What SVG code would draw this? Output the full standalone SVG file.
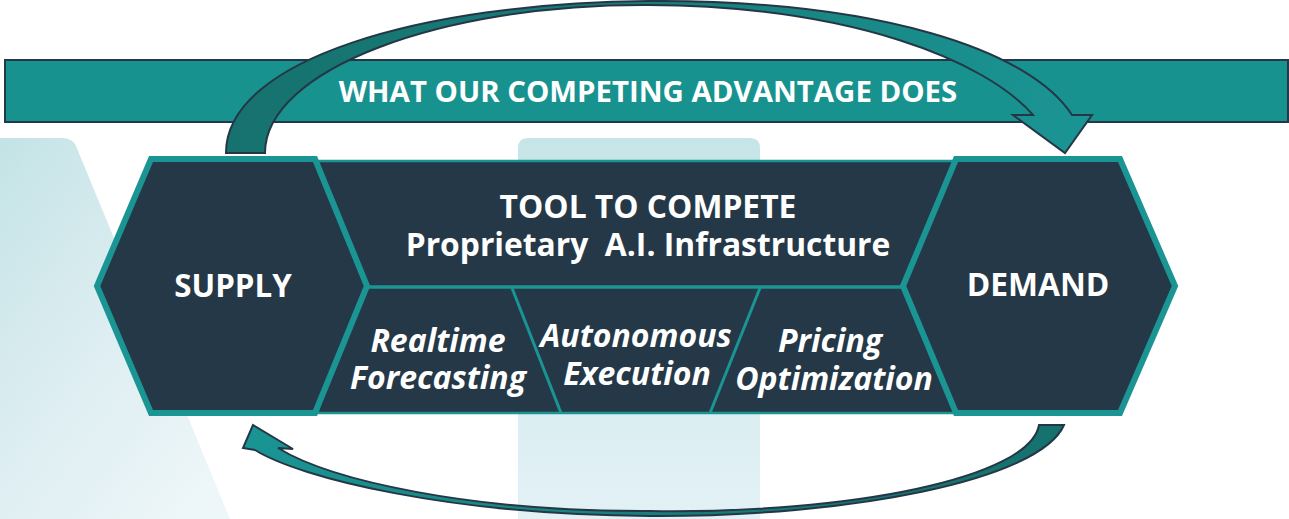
<svg xmlns="http://www.w3.org/2000/svg" width="1289" height="519" viewBox="0 0 1289 519">
<defs>
<style>
.hex{fill:#253847;stroke:#1a9594;stroke-width:6;stroke-linejoin:miter}
.ln{stroke:#1a9594;fill:none}
.t{font-family:"Open Sans","DejaVu Sans",sans-serif;font-weight:bold;fill:#ffffff;text-anchor:middle}
.it{font-style:italic;font-size:32px}
.arrow{stroke:#253746;stroke-width:2;stroke-linejoin:miter}
</style>
<linearGradient id="bgL" x1="0" y1="0" x2="0.8" y2="1">
<stop offset="0" stop-color="#c3e3e5"/>
<stop offset="0.5" stop-color="#dcedf1"/>
<stop offset="1" stop-color="#edf6f8"/>
</linearGradient>
<linearGradient id="bgC" x1="0" y1="0" x2="0" y2="1">
<stop offset="0" stop-color="#c6e5e7"/>
<stop offset="1" stop-color="#e3f1f5"/>
</linearGradient>
<linearGradient id="gTop" gradientUnits="userSpaceOnUse" x1="226" y1="0" x2="1092" y2="0">
<stop offset="0" stop-color="#16726e"/>
<stop offset="0.45" stop-color="#177d79"/>
<stop offset="1" stop-color="#1a9594"/>
</linearGradient>
<linearGradient id="gBot" gradientUnits="userSpaceOnUse" x1="243" y1="0" x2="1064" y2="0">
<stop offset="0" stop-color="#1a9594"/>
<stop offset="0.55" stop-color="#177d79"/>
<stop offset="1" stop-color="#15716d"/>
</linearGradient>
</defs>
<rect width="1289" height="519" fill="#ffffff"/>
<g id="background">
<path d="M0,138 L62,138 Q72,138 76,146 L230,519 L0,519 Z" fill="url(#bgL)"/>
<path d="M518,519 L518,148 Q518,138 528,138 L750,138 Q760,138 760,148 L760,519 Z" fill="url(#bgC)"/>
</g>
<g id="banner">
<rect x="5" y="60" width="1283" height="62" fill="#18928f" stroke="#25384a" stroke-width="2"/>
<text class="t" x="648" y="102" font-size="29.4">WHAT OUR COMPETING ADVANTAGE DOES</text>
</g>
<g id="connectors">
<path id="arrow-top" class="arrow" fill="url(#gTop)" d="M226,153 C226,60 420,3 648,1 C880,0 1030,50 1072,115 L1092,115 L1065,153 L1013,115 L1033,115 C985,60 850,6 648,5 C440,4 265,70 265,153 Z"/>
<path id="arrow-bottom" class="arrow" fill="url(#gBot)" d="M1064,425 C1040,480 850,517 650,516 C450,515 300,478 255,450 L243,448 L253,425 L293,449 L278,448 C330,480 470,512 650,511 C850,514 1030,478 1039,425 Z"/>
</g>
<g id="tool">
<rect x="318" y="161" width="637" height="252" fill="#253847" stroke="#1a9594" stroke-width="2.5"/>
<line class="ln" x1="368" y1="287" x2="903" y2="287" stroke-width="3.5"/>
<text class="t" x="648" y="218" font-size="31.8">TOOL TO COMPETE</text>
<text class="t" x="648" y="256" font-size="31.8" xml:space="preserve">Proprietary  A.I. Infrastructure</text>
</g>
<g id="cell-forecasting">
<line class="ln" x1="512" y1="288" x2="561" y2="413" stroke-width="3"/>
<text class="t it" x="438" y="352">Realtime</text>
<text class="t it" x="438" y="389">Forecasting</text>
</g>
<g id="cell-execution">
<line class="ln" x1="760" y1="288" x2="710" y2="413" stroke-width="3"/>
<text class="t it" x="636" y="347">Autonomous</text>
<text class="t it" x="637" y="385">Execution</text>
</g>
<g id="cell-pricing">
<text class="t it" x="830" y="352">Pricing</text>
<text class="t it" x="834" y="390">Optimization</text>
</g>
<g id="supply">
<polygon class="hex" points="151,159 315,159 367,286 315,413 151,413 97,286"/>
<text class="t" x="233" y="297" font-size="31.3">SUPPLY</text>
</g>
<g id="demand">
<polygon class="hex" points="956,159 1120,159 1175,286 1120,413 956,413 903,286"/>
<text class="t" x="1038" y="296" font-size="31.8">DEMAND</text>
</g>
</svg>
